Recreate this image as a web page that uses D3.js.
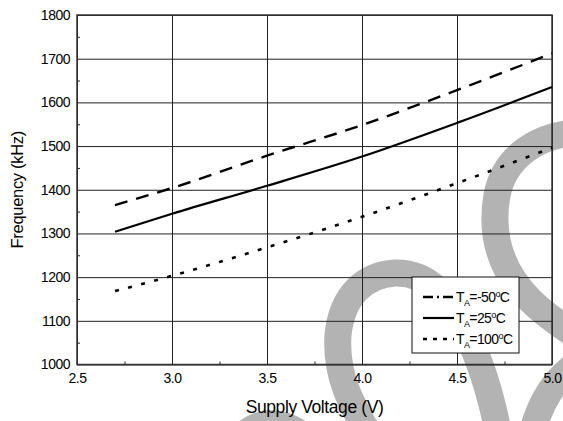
<!DOCTYPE html>
<html>
<head>
<meta charset="utf-8">
<script src="https://cdn.jsdelivr.net/npm/d3@7"></script>
<style>
  html, body { margin: 0; padding: 0; background: #fff; }
  svg { display: block; font-family: "Liberation Sans", Arial, sans-serif; }
</style>
</head>
<body>
<svg id="chart" width="563" height="421"></svg>
<script>
// ---- data ----
const voltages = [2.7, 3.0, 3.5, 4.0, 4.5, 5.0];
const freqMinus50 = [1365, 1404, 1478, 1548, 1628, 1712];
const freq25 = [1304, 1345, 1409, 1476, 1553, 1635];
const freq100 = [1168, 1203, 1268, 1338, 1415, 1496];
const xTicks = [2.5, 3.0, 3.5, 4.0, 4.5, 5.0];
const yTicks = [1000, 1100, 1200, 1300, 1400, 1500, 1600, 1700, 1800];
const xMinor = [2.75, 3.25, 3.75, 4.25, 4.75];
const yMinor = [1050, 1150, 1250, 1350, 1450, 1550, 1650, 1750];
const seriesNames = ["-50", "25", "100"];

const svg = d3.select("#chart");
const W = 563, H = 421;
const m = { left: 77, right: 552, top: 15, bottom: 364.5 };

const x = d3.scaleLinear().domain([2.5, 5.0]).range([m.left, m.right]);
const y = d3.scaleLinear().domain([1000, 1800]).range([m.bottom, m.top]);

// ---- watermark (decorative) ----
const wm = svg.append("g").attr("fill", "none").attr("stroke", "#b3b3b3").attr("stroke-width", 27);
[
  "M575,133 C540,135 505,155 497,195 C490,235 500,270 530,300 C545,315 560,325 575,335",
  "M372,440 C355,410 335,380 338,335 C342,295 365,275 395,273 C430,272 450,300 465,330 C480,360 490,390 500,440",
  "M530,440 C540,400 555,380 575,365",
  "M238,440 Q265,412 298,432"
].forEach(d => wm.append("path").attr("d", d));

// ---- grid ----
const gridCol = "#222";
svg.append("g")
  .attr("transform", `translate(0,${m.bottom})`)
  .call(d3.axisBottom(x).tickValues(xTicks).tickSize(-(m.bottom - m.top)).tickFormat(""))
  .call(g => g.select(".domain").remove())
  .call(g => g.selectAll("line").attr("stroke", gridCol).attr("stroke-width", 1));
svg.append("g")
  .attr("transform", `translate(${m.left},0)`)
  .call(d3.axisLeft(y).tickValues(yTicks).tickSize(-(m.right - m.left)).tickFormat(""))
  .call(g => g.select(".domain").remove())
  .call(g => g.selectAll("line").attr("stroke", gridCol).attr("stroke-width", 1));

// minor ticks (inward)
svg.append("g")
  .attr("transform", `translate(0,${m.bottom})`)
  .call(d3.axisBottom(x).tickValues(xMinor).tickSize(-3).tickFormat(""))
  .call(g => g.select(".domain").remove())
  .call(g => g.selectAll("line").attr("stroke", "#222"));
svg.append("g")
  .attr("transform", `translate(${m.left},0)`)
  .call(d3.axisLeft(y).tickValues(yMinor).tickSize(-3).tickFormat(""))
  .call(g => g.select(".domain").remove())
  .call(g => g.selectAll("line").attr("stroke", "#222"));

// frame
svg.append("rect")
  .attr("x", m.left).attr("y", m.top)
  .attr("width", m.right - m.left).attr("height", m.bottom - m.top)
  .attr("fill", "none").attr("stroke", "#333").attr("stroke-width", 1.5);

// ---- tick labels ----
svg.append("g")
  .attr("transform", `translate(0,${m.bottom})`)
  .call(d3.axisBottom(x).tickValues(xTicks).tickSize(0).tickPadding(8.5).tickFormat(d3.format(".1f")))
  .call(g => g.select(".domain").remove())
  .call(g => g.selectAll("text").attr("font-size", 14).attr("fill", "#000")
      .attr("font-family", "Liberation Sans, Arial, sans-serif").attr("letter-spacing", "-0.4"));
svg.append("g")
  .attr("transform", `translate(${m.left},0)`)
  .call(d3.axisLeft(y).tickValues(yTicks).tickSize(0).tickPadding(7).tickFormat(d3.format("d")))
  .call(g => g.select(".domain").remove())
  .call(g => g.selectAll("text").attr("font-size", 14).attr("fill", "#000")
      .attr("font-family", "Liberation Sans, Arial, sans-serif").attr("letter-spacing", "-0.5"));

// ---- axis titles ----
svg.append("text")
  .attr("x", (m.left + m.right) / 2).attr("y", 413)
  .attr("text-anchor", "middle").attr("font-size", 17.5).attr("letter-spacing", "-0.4")
  .text("Supply Voltage (V)");
svg.append("text")
  .attr("transform", `translate(23,${(m.top + m.bottom) / 2}) rotate(-90)`)
  .attr("text-anchor", "middle").attr("font-size", 16.5).attr("letter-spacing", "-0.3")
  .text("Frequency (kHz)");

// ---- series ----
const line = d3.line().x((d, i) => x(voltages[i])).y(d => y(d)).curve(d3.curveMonotoneX);
const styles = [
  { data: freqMinus50, dash: "13,9", width: 2.4, legendDash: "10,4,2,4,10" },
  { data: freq25, dash: null, width: 2.2, legendDash: null },
  { data: freq100, dash: "4,9.5", width: 2.6, legendDash: "4,6" }
];
styles.forEach(s => {
  svg.append("path")
    .attr("d", line(s.data))
    .attr("fill", "none").attr("stroke", "#000")
    .attr("stroke-width", s.width)
    .attr("stroke-dasharray", s.dash);
});

// ---- legend ----
const lg = svg.append("g");
lg.append("rect").attr("x", 412).attr("y", 277).attr("width", 107).attr("height", 76)
  .attr("fill", "#fff").attr("stroke", "#111").attr("stroke-width", 1);
const rowY = [297, 318, 339];
styles.forEach((s, i) => {
  lg.append("line").attr("x1", 423).attr("x2", 454).attr("y1", rowY[i]).attr("y2", rowY[i])
    .attr("stroke", "#000").attr("stroke-width", s.width).attr("stroke-dasharray", s.legendDash);
  const t = lg.append("text").attr("x", 456).attr("y", rowY[i] + 5)
    .attr("font-size", 14).attr("letter-spacing", "-0.6");
  t.append("tspan").text("T");
  t.append("tspan").attr("font-size", 9).attr("dy", 4).text("A");
  t.append("tspan").attr("dy", -4).text("=" + seriesNames[i]);
  t.append("tspan").attr("font-size", 9).attr("dy", -5).text("o");
  t.append("tspan").attr("dy", 5).text("C");
});
</script>
</body>
</html>
